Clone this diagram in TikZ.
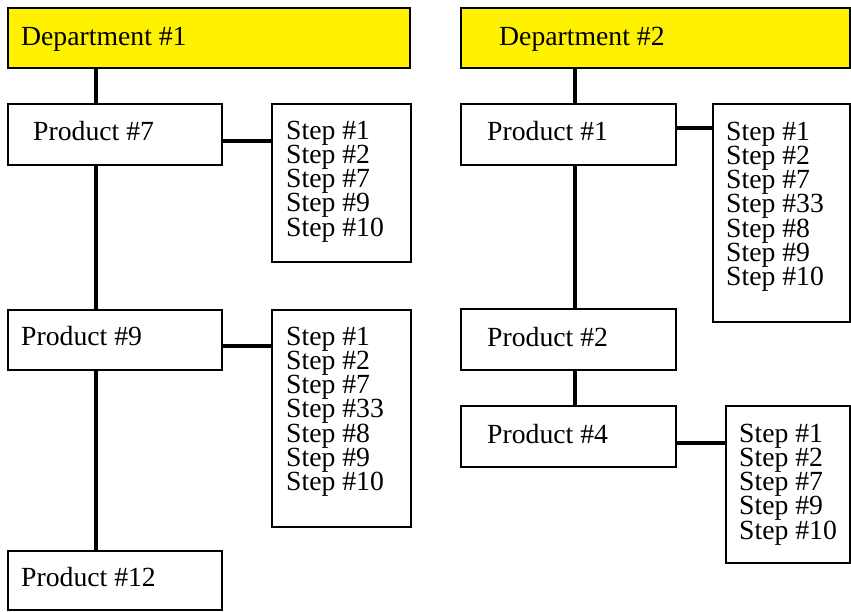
\documentclass[tikz,border=0pt]{standalone}
\usepackage{fontspec}
\setmainfont{Liberation Serif}
\newcommand{\stlist}[1]{\vtop{\baselineskip=24.3pt\lineskiplimit=-1000pt\lineskip=0pt #1}}
\newcommand{\st}[1]{\hbox{Step \##1}}
\begin{document}
\begin{tikzpicture}[x=1pt,y=-1pt,
  box/.style={draw=black,line width=1.6pt,fill=white,inner sep=0pt,outer sep=0pt,anchor=north west},
  dept/.style={box,fill=yellow},
  conn/.style={line width=3.6pt,black},
  lbl/.style={anchor=base west,inner sep=0pt,font=\fontsize{27.7}{24.3}\selectfont}
]
\useasboundingbox (0,0) rectangle (851,611);
% left column
\node[dept,minimum width=402pt,minimum height=60pt] (d1) at (8,8) {};
\node[box,minimum width=214pt,minimum height=61pt] (p7) at (8,104) {};
\node[box,minimum width=139pt,minimum height=158pt] (s7) at (272,104) {};
\node[box,minimum width=214pt,minimum height=60pt] (p9) at (8,310) {};
\node[box,minimum width=139pt,minimum height=217pt] (s9) at (272,310) {};
\node[box,minimum width=214pt,minimum height=59pt] (p12) at (8,551) {};
% right column
\node[dept,minimum width=389pt,minimum height=60pt] (d2) at (461,8) {};
\node[box,minimum width=215pt,minimum height=61pt] (p1) at (461,104) {};
\node[box,minimum width=137pt,minimum height=218pt] (s1) at (713,104) {};
\node[box,minimum width=215pt,minimum height=61pt] (p2) at (461,309) {};
\node[box,minimum width=215pt,minimum height=61pt] (p4) at (461,406) {};
\node[box,minimum width=124pt,minimum height=157pt] (s4) at (726,406) {};
% texts
\node[lbl] (t1) at (21,45) {Department \#1};
\node[lbl] (t2) at (499,45) {Department \#2};
\node[lbl] (t3) at (33,140) {Product \#7};
\node[lbl] (t4) at (21,345) {Product \#9};
\node[lbl] (t5) at (21,586) {Product \#12};
\node[lbl] (t6) at (487,140) {Product \#1};
\node[lbl] (t7) at (487,346) {Product \#2};
\node[lbl] (t8) at (487,443) {Product \#4};
\node[lbl] (u1) at (286,139) {\stlist{\st1\st2\st7\st9\st{10}}};
\node[lbl] (u2) at (286,345) {\stlist{\st1\st2\st7\st{33}\st8\st9\st{10}}};
\node[lbl] (u3) at (726,140) {\stlist{\st1\st2\st7\st{33}\st8\st9\st{10}}};
\node[lbl] (u4) at (739,442) {\stlist{\st1\st2\st7\st9\st{10}}};
% connector guides
\coordinate (vl) at (96,0);
\coordinate (vr) at (575,0);
\coordinate (h7) at (0,141);
\coordinate (h9) at (0,346);
\coordinate (h1) at (0,128);
\coordinate (h4) at (0,443);
% connectors
\draw[conn] (vl |- d1.south) -- (vl |- p7.north);
\draw[conn] (vl |- p7.south) -- (vl |- p9.north);
\draw[conn] (vl |- p9.south) -- (vl |- p12.north);
\draw[conn] (h7 -| p7.east) -- (h7 -| s7.west);
\draw[conn] (h9 -| p9.east) -- (h9 -| s9.west);
\draw[conn] (vr |- d2.south) -- (vr |- p1.north);
\draw[conn] (vr |- p1.south) -- (vr |- p2.north);
\draw[conn] (vr |- p2.south) -- (vr |- p4.north);
\draw[conn] (h1 -| p1.east) -- (h1 -| s1.west);
\draw[conn] (h4 -| p4.east) -- (h4 -| s4.west);
\end{tikzpicture}
\end{document}
